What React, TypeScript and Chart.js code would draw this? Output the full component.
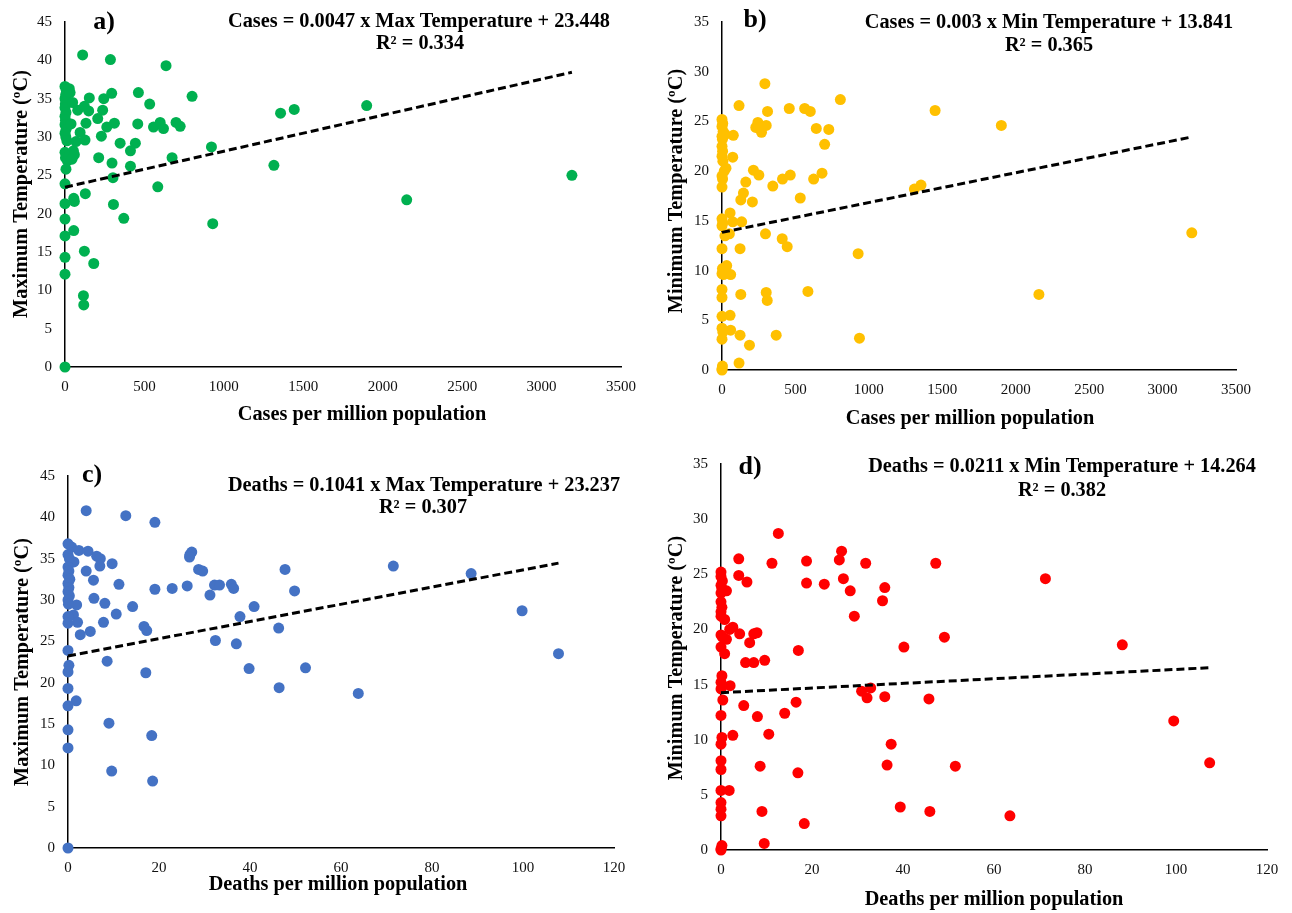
import React, { useEffect, useRef } from "react";
import { Chart, registerables } from "chart.js";

Chart.register(...registerables);

// ---------------- Panel a: cases vs maximum temperature ----------------
const casesA = [
  0, 8, 4, 0, 10, 2, 0, 6, 0, 3, 0, 7, 0, 5, 12, 0, 3, 15,
  27, 32, 48, 38, 53, 27, 59, 44, 6,
  111, 286, 636, 153, 244, 294, 462, 800, 533, 80, 122, 149, 237, 206, 263, 311, 132, 458,
  557, 599, 620, 699, 725, 95, 229, 126, 69, 347, 443, 412, 922, 212, 674, 296, 412, 1315,
  302, 0, 584, 128, 55, 59, 0, 305, 370, 0, 930, 55, 0, 122, 181, 0, 0, 116, 118, 0,
  1357, 1443, 1899, 2151, 3191,
];
const maxTempA = [
  36.6, 36.1, 35.5, 35.0, 34.8, 34.3, 33.8, 33.2, 32.7, 32.2, 31.6, 31.0, 30.5, 30.0, 29.5, 28.0, 27.3, 26.9,
  36.3, 35.8, 34.5, 31.7, 28.2, 27.6, 27.7, 27.1, 25.8,
  40.7, 40.1, 39.3, 35.1, 35.0, 35.7, 35.8, 35.3, 34.3, 33.5, 34.0, 33.4, 33.5, 32.4, 31.3, 31.8, 31.8, 31.7,
  31.3, 31.9, 31.1, 31.9, 31.4, 30.6, 30.1, 29.6, 29.4, 29.2, 29.2, 28.2, 28.7, 27.3, 27.3, 26.6, 26.2, 26.3,
  24.7, 23.9, 23.5, 22.6, 22.0, 21.6, 21.3, 21.2, 19.4, 19.3, 18.7, 17.8, 17.1, 15.1, 13.5, 14.3, 12.1, 9.3, 8.1, 0,
  33.1, 33.6, 34.1, 21.8, 25.0,
];

// ---------------- Panel b: cases vs minimum temperature ----------------
const casesB = [
  292, 116, 458, 563, 601, 310, 806, 1451, 1902, 244, 230, 301, 269, 642, 727, 699,
  21, 77, 73, 27, 214, 251, 465, 412, 681, 624, 162, 346, 146, 128, 207, 533,
  55, 73, 134, 50, 296, 410, 444, 123, 927, 32, 59, 128, 301, 308, 585,
  55, 59, 123, 369, 936, 187, 116, 1310, 1355, 2158, 3199,
  0, 5, 0, 8, 0, 3, 0, 4, 0, 6, 15, 0, 4, 0, 0, 5,
  0, 20, 0, 3, 0, 10, 0, 0, 0, 0, 6, 0, 3, 0, 0,
];
const minTempB = [
  28.8, 26.6, 26.3, 26.3, 26.0, 26.0, 27.2, 26.1, 24.6, 24.9, 24.4, 24.6, 23.9, 24.3, 24.2, 22.7,
  23.7, 23.6, 21.4, 20.3, 20.1, 19.6, 19.6, 19.2, 19.8, 19.2, 18.9, 18.5, 17.8, 17.1, 16.9, 17.3,
  15.8, 14.9, 14.9, 13.7, 13.7, 13.2, 12.4, 12.2, 11.7, 10.5, 9.6, 7.6, 7.8, 7.0, 7.9,
  5.5, 4.0, 3.5, 3.5, 3.2, 2.5, 0.7, 18.2, 18.6, 7.6, 13.8,
  25.2, 24.8, 24.5, 24.0, 23.5, 23.2, 22.5, 22.0, 21.5, 21.0, 20.0, 19.5, 19.2, 18.4, 15.2, 14.8,
  14.5, 13.5, 12.2, 10.2, 9.7, 9.6, 8.1, 7.3, 5.4, 4.2, 3.8, 3.1, 0.4, 0.1, 0,
];

// ---------------- Panel c: deaths vs maximum temperature ----------------
const deathsC = [
  4.0, 12.7, 19.1, 0.8, 2.4, 4.4, 6.3, 7.1, 7.0, 9.7, 1.3, 4.0, 5.6, 11.2, 19.1, 22.9,
  27.2, 26.8, 26.7, 26.2, 28.7, 29.6, 31.2, 32.2, 33.3, 35.9, 36.4, 47.7, 49.8,
  5.7, 8.1, 1.9, 14.2, 40.9, 10.6, 37.8, 1.2, 7.8, 2.1, 16.7, 17.3, 46.3, 4.9, 2.7, 32.4, 37.0,
  0, 8.6, 0.2, 17.1, 39.8, 52.2, 0, 0, 46.4, 1.8, 0, 9.0, 0, 18.4, 0, 9.6, 18.6, 0,
  71.5, 88.6, 99.8, 107.8, 63.8,
  0, 0, 0.3, 0, 0.2, 0, 0.4, 0, 0.2, 0, 0.3, 0, 0.1, 0, 0,
];
const maxTempC = [
  40.8, 40.2, 39.4, 36.4, 36.0, 35.9, 35.3, 35.0, 34.1, 34.4, 34.6, 33.5, 32.4, 31.9, 31.3, 31.4,
  35.8, 35.5, 35.2, 31.7, 33.7, 33.5, 30.6, 31.8, 31.8, 31.9, 31.4, 33.7, 31.1,
  30.2, 29.6, 29.4, 29.2, 29.2, 28.3, 28.0, 28.2, 27.3, 27.3, 26.8, 26.3, 26.6, 26.2, 25.8, 25.1, 24.7,
  23.9, 22.6, 22.1, 21.2, 21.7, 21.8, 21.3, 19.3, 19.4, 17.8, 17.2, 15.1, 14.3, 13.6, 12.1, 9.3, 8.1, 0,
  34.1, 33.2, 28.7, 23.5, 18.7,
  36.8, 35.5, 35.0, 34.0, 33.5, 33.0, 32.5, 32.0, 31.5, 31.0, 30.5, 30.0, 29.5, 28.0, 27.2,
];

// ---------------- Panel d: deaths vs minimum temperature ----------------
const deathsD = [
  12.6, 3.9, 11.2, 18.8, 26.5, 26.0, 31.8, 47.2, 3.9, 5.7, 18.8, 22.7, 26.9, 28.4, 36.0, 35.5, 29.3,
  1.2, 0.8, 2.6, 1.9, 4.1, 7.2, 7.9, 6.3, 1.2, 17.0, 40.2, 49.1, 0.8, 5.4, 7.2, 9.6,
  2.0, 30.9, 32.9, 32.1, 36.0, 45.7, 0.4, 16.5, 5.0, 14.0, 8.0, 10.5, 2.6, 37.4,
  8.6, 16.9, 36.5, 51.5, 1.8, 9.0, 39.4, 45.9, 18.3, 9.5,
  71.3, 88.2, 99.5, 107.4, 63.5,
  0, 0, 0.3, 0, 0.2, 0, 0, 0.2, 0, 0, 0, 0.3, 0, 0.2,
  0, 0, 0, 0.2, 0, 0, 0, 0, 0, 0, 0, 0.2, 0, 0,
];
const minTempD = [
  28.7, 26.4, 26.0, 26.2, 27.1, 26.3, 26.0, 26.0, 24.9, 24.3, 24.2, 24.1, 24.6, 23.5, 23.8, 22.6, 21.2,
  23.5, 20.9, 20.2, 20.0, 19.6, 19.6, 19.7, 18.8, 19.1, 18.1, 18.4, 19.3, 17.8, 17.0, 17.0, 17.2,
  14.9, 14.4, 14.7, 13.8, 13.9, 13.7, 13.6, 13.4, 13.1, 12.4, 12.1, 10.5, 10.4, 9.6,
  7.6, 7.0, 7.7, 7.6, 5.4, 3.5, 3.9, 3.5, 2.4, 0.6,
  24.6, 18.6, 11.7, 7.9, 3.1,
  25.2, 24.8, 24.4, 24.0, 23.7, 23.3, 22.5, 22.0, 21.6, 21.2, 19.5, 19.3, 18.4, 15.8,
  15.2, 14.6, 12.2, 10.2, 9.6, 8.1, 7.3, 5.4, 4.3, 3.7, 3.1, 0.4, 0.1, 0,
];

// Trend-line equations (as printed on the chart) and the x-range they span
const trendA = { slope: 0.0047, intercept: 23.448, xEnd: 3191 };
const trendB = { slope: 0.003, intercept: 13.841, xEnd: 3199 };
const trendC = { slope: 0.1041, intercept: 23.237, xEnd: 107.8 };
const trendD = { slope: 0.0211, intercept: 14.264, xEnd: 107.8 };

// Axis tick settings
const casesTicks = { max: 3500, step: 500 };
const deathsTicks = { max: 120, step: 20 };
const maxTempTicks = { max: 45, step: 5 };
const minTempTicks = { max: 35, step: 5 };

const SERIF = '"Liberation Serif", "Times New Roman", serif';
const PAGE_W = 1292;
const PAGE_H = 913;

type TextItem = { text: string; x: number; y: number; size: number; rot?: boolean };

type Panel = {
  xs: number[];
  ys: number[];
  color: string;
  trend: { slope: number; intercept: number; xEnd: number };
  xTicks: { max: number; step: number };
  yTicks: { max: number; step: number };
  area: { l: number; t: number; r: number; b: number };
  texts: TextItem[];
};

const panels: Panel[] = [
  {
    xs: casesA,
    ys: maxTempA,
    color: "#00B050",
    trend: trendA,
    xTicks: casesTicks,
    yTicks: maxTempTicks,
    area: { l: 65, t: 22, r: 621, b: 367 },
    texts: [
      { text: "a)", x: 104, y: 22, size: 26 },
      { text: "Cases = 0.0047 x Max Temperature + 23.448", x: 419, y: 22, size: 20.3 },
      { text: "R² = 0.334", x: 420, y: 44, size: 20.3 },
      { text: "Cases per million population", x: 362, y: 415, size: 20.3 },
      { text: "Maximum Temperature (ºC)", x: 22, y: 194, size: 20.3, rot: true },
    ],
  },
  {
    xs: casesB,
    ys: minTempB,
    color: "#FFC000",
    trend: trendB,
    xTicks: casesTicks,
    yTicks: minTempTicks,
    area: { l: 722, t: 13, r: 1236, b: 370 },
    texts: [
      { text: "b)", x: 755, y: 20, size: 26 },
      { text: "Cases = 0.003 x Min Temperature + 13.841", x: 1049, y: 23, size: 20.3 },
      { text: "R² = 0.365", x: 1049, y: 46, size: 20.3 },
      { text: "Cases per million population", x: 970, y: 419, size: 20.3 },
      { text: "Minimum Temperature (ºC)", x: 677, y: 191, size: 20.3, rot: true },
    ],
  },
  {
    xs: deathsC,
    ys: maxTempC,
    color: "#4472C4",
    trend: trendC,
    xTicks: deathsTicks,
    yTicks: maxTempTicks,
    area: { l: 68, t: 476, r: 614, b: 848 },
    texts: [
      { text: "c)", x: 92, y: 475, size: 26 },
      { text: "Deaths = 0.1041 x Max Temperature + 23.237", x: 424, y: 486, size: 20.3 },
      { text: "R² = 0.307", x: 423, y: 508, size: 20.3 },
      { text: "Deaths per million population", x: 338, y: 885, size: 20.3 },
      { text: "Maximum Temperature (ºC)", x: 23, y: 662, size: 20.3, rot: true },
    ],
  },
  {
    xs: deathsD,
    ys: minTempD,
    color: "#FF0000",
    trend: trendD,
    xTicks: deathsTicks,
    yTicks: minTempTicks,
    area: { l: 721, t: 464, r: 1267, b: 850 },
    texts: [
      { text: "d)", x: 750, y: 467, size: 26 },
      { text: "Deaths = 0.0211 x Min Temperature + 14.264", x: 1062, y: 467, size: 20.3 },
      { text: "R² = 0.382", x: 1062, y: 491, size: 20.3 },
      { text: "Deaths per million population", x: 994, y: 900, size: 20.3 },
      { text: "Minimum Temperature (ºC)", x: 677, y: 658, size: 20.3, rot: true },
    ],
  },
];

const Y_AXIS_W = 50;
const X_AXIS_H = 34;

function buildChart(canvas: HTMLCanvasElement, p: Panel): Chart {
  const points = p.xs.map((x, i) => ({ x, y: p.ys[i] }));
  const trendPts = [
    { x: 0, y: p.trend.intercept },
    { x: p.trend.xEnd, y: p.trend.intercept + p.trend.slope * p.trend.xEnd },
  ];
  const textPlugin = {
    id: "panelText",
    afterDraw(chart: any) {
      const ctx = chart.ctx as CanvasRenderingContext2D;
      ctx.save();
      ctx.fillStyle = "#000";
      ctx.textAlign = "center";
      ctx.textBaseline = "middle";
      for (const t of p.texts) {
        ctx.font = `bold ${t.size}px ${SERIF}`;
        if (t.rot) {
          ctx.save();
          ctx.translate(t.x, t.y);
          ctx.rotate(-Math.PI / 2);
          ctx.fillText(t.text, 0, 0);
          ctx.restore();
        } else {
          ctx.fillText(t.text, t.x, t.y);
        }
      }
      ctx.restore();
    },
  };
  const tickFont = { family: SERIF, size: 15 };
  const plain = (v: any) => String(v);
  return new Chart(canvas, {
    type: "scatter",
    data: {
      datasets: [
        {
          type: "scatter",
          data: points,
          backgroundColor: p.color,
          borderColor: p.color,
          borderWidth: 0,
          pointRadius: 5.5,
          pointHoverRadius: 5.5,
          clip: false,
          order: 2,
        } as any,
        {
          type: "line",
          data: trendPts,
          borderColor: "#000",
          borderWidth: 3,
          borderDash: [8, 4],
          pointRadius: 0,
          fill: false,
          tension: 0,
          clip: false,
          order: 1,
        } as any,
      ],
    },
    options: {
      responsive: false,
      animation: false,
      devicePixelRatio: 1,
      events: [],
      layout: {
        padding: {
          left: p.area.l - Y_AXIS_W,
          top: p.area.t,
          right: PAGE_W - p.area.r,
          bottom: PAGE_H - p.area.b - X_AXIS_H,
        },
      },
      plugins: {
        legend: { display: false },
        tooltip: { enabled: false },
        title: { display: false },
      },
      scales: {
        x: {
          type: "linear",
          min: 0,
          max: p.xTicks.max,
          ticks: { stepSize: p.xTicks.step, padding: 11, font: tickFont, color: "#111", callback: plain },
          grid: { display: false, drawTicks: false },
          border: { display: true, color: "#000", width: 1.5 },
          afterFit: (s: any) => {
            s.height = X_AXIS_H;
          },
        },
        y: {
          type: "linear",
          min: 0,
          max: p.yTicks.max,
          ticks: { stepSize: p.yTicks.step, padding: 13, font: tickFont, color: "#111", callback: plain },
          grid: { display: false, drawTicks: false },
          border: { display: true, color: "#000", width: 1.5 },
          afterFit: (s: any) => {
            s.width = Y_AXIS_W;
          },
        },
      },
    } as any,
    plugins: [textPlugin],
  });
}

function PanelCanvas({ panel }: { panel: Panel }) {
  const ref = useRef<HTMLCanvasElement | null>(null);
  useEffect(() => {
    if (!ref.current) return;
    const chart = buildChart(ref.current, panel);
    return () => chart.destroy();
  }, [panel]);
  return (
    <canvas
      ref={ref}
      width={PAGE_W}
      height={PAGE_H}
      style={{ position: "absolute", left: 0, top: 0, width: PAGE_W, height: PAGE_H }}
    />
  );
}

export default function App() {
  return (
    <div
      style={{
        position: "absolute",
        left: 0,
        top: 0,
        width: PAGE_W,
        height: PAGE_H,
        background: "#fff",
        overflow: "hidden",
      }}
    >
      {panels.map((p, i) => (
        <PanelCanvas key={i} panel={p} />
      ))}
    </div>
  );
}
